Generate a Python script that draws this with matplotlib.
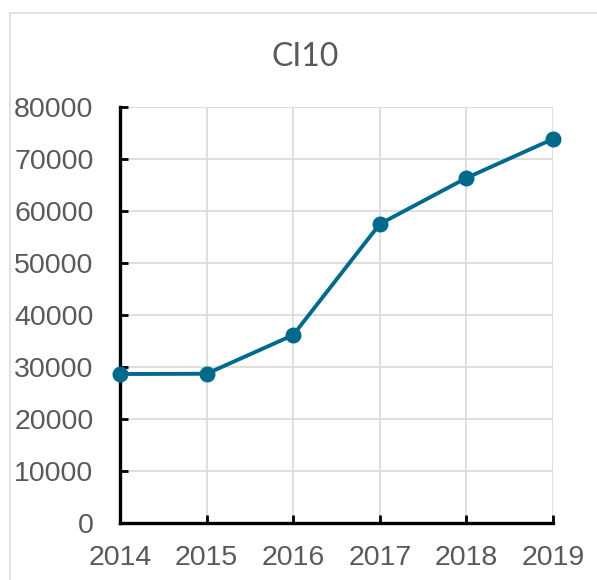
import matplotlib
matplotlib.use("Agg")
import matplotlib.pyplot as plt
from matplotlib.lines import Line2D

years = ["2014", "2015", "2016", "2017", "2018", "2019"]
values = [28650, 28700, 36150, 57500, 66350, 73850]
y_ticks = [0, 10000, 20000, 30000, 40000, 50000, 60000, 70000, 80000]
title = "CI10"

plt.rcParams["font.family"] = ["Liberation Sans", "DejaVu Sans"]

W, H = 597, 580
fig = plt.figure(figsize=(W / 100, H / 100), dpi=100)
ax = fig.add_axes([120 / W, 1 - 523 / H, (553 - 120) / W, (523 - 107) / H])

x = list(range(len(years)))
ax.plot(x, values, color="#00698C", lw=2.8, marker="o", markersize=10.5,
        solid_capstyle="round", zorder=3, clip_on=False)

ax.set_xlim(0, len(years) - 1)
ax.set_ylim(0, 80000)
ax.set_xticks(x)
ax.set_xticklabels(years)
ax.set_yticks(y_ticks)
ax.set_yticklabels([str(v) for v in y_ticks])

ax.grid(True, color="#D9D9D9", lw=1.2, zorder=0)
ax.set_axisbelow(True)
for s in ["top", "right"]:
    ax.spines[s].set_visible(False)
for s in ["left", "bottom"]:
    ax.spines[s].set_color("black")
    ax.spines[s].set_linewidth(2.4)
    ax.spines[s].set_zorder(2)

ax.tick_params(axis="both", direction="in", length=6, width=2, color="black",
               labelcolor="#595959", labelsize=20.5)
ax.tick_params(axis="y", pad=19)
ax.tick_params(axis="x", pad=16)

fig.text(305 / W, 1 - 57 / H, title, ha="center", va="center",
         fontsize=23, color="#595959", fontfamily="Lato")

border_c = "#D9D9D9"
fig.add_artist(Line2D([9.5 / W, 9.5 / W], [0, 1 - 13 / H], transform=fig.transFigure,
                      color=border_c, lw=1.1))
fig.add_artist(Line2D([9.5 / W, 1], [1 - 13 / H, 1 - 13 / H], transform=fig.transFigure,
                      color=border_c, lw=1.1))

fig.savefig("out.png", dpi=100)
